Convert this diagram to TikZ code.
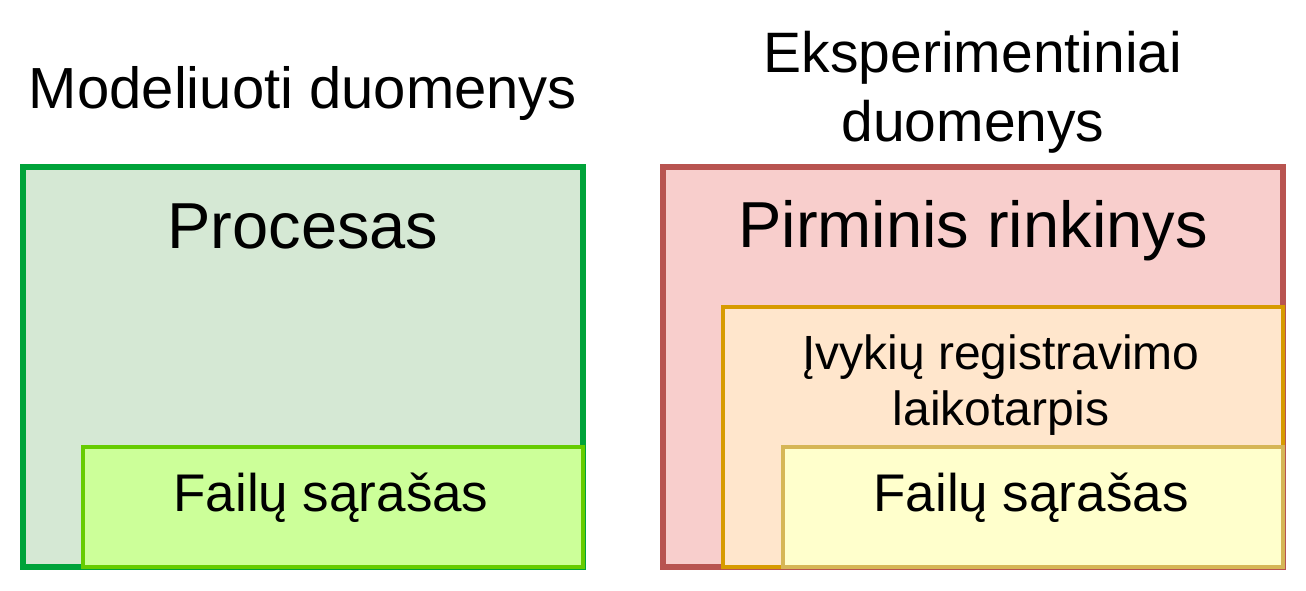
\documentclass[tikz,border=0pt]{standalone}
\usepackage{xcolor}
\usepackage{fontspec}
\setmainfont{Liberation Sans}
\usepackage{tikz}
\usetikzlibrary{positioning}

\definecolor{procFill}{HTML}{D5E8D4}
\definecolor{procLine}{HTML}{00A33A}
\definecolor{failFill}{HTML}{CCFF99}
\definecolor{failLine}{HTML}{66CC00}
\definecolor{pirmFill}{HTML}{F8CECC}
\definecolor{pirmLine}{HTML}{B85450}
\definecolor{laikFill}{HTML}{FFE6CC}
\definecolor{laikLine}{HTML}{D79B00}
\definecolor{sarFill}{HTML}{FFFFCC}
\definecolor{sarLine}{HTML}{D6B656}

\tikzset{
  box/.style={rectangle, draw, anchor=north west, inner sep=0pt, outer sep=0pt},
  bigbox/.style={box, line width=6pt},
  smallbox/.style={box, line width=4pt},
  txt/.style={anchor=base, inner sep=0pt, align=center}
}

\begin{document}
\begin{tikzpicture}[x=1pt, y=-1pt]
        \useasboundingbox (0,0) rectangle (1306,590);

        % modeliuoti duomenys
        \node[bigbox, fill=procFill, draw=procLine, minimum width=560pt, minimum height=400pt] (procesas) at (23,167) {};
        \node[smallbox, fill=failFill, draw=failLine, minimum width=500pt, minimum height=120pt] (failaiM) at (83,447) {};

        % eksperimentiniai duomenys
        \node[bigbox, fill=pirmFill, draw=pirmLine, minimum width=620pt, minimum height=400pt] (pirminis) at (663,167) {};
        \node[smallbox, fill=laikFill, draw=laikLine, minimum width=560pt, minimum height=260pt] (laikotarpis) at (723,307) {};
        \node[smallbox, fill=sarFill, draw=sarLine, minimum width=500pt, minimum height=120pt] (failaiE) at (783,447) {};

        % tekstai
        \node[txt, font=\fontsize{58}{68}\selectfont] (modT) at (303,108) {Modeliuoti duomenys};
        \node[txt, font=\fontsize{57}{69}\selectfont, anchor=north] (eksT) at (973,31) {Eksperimentiniai\\duomenys};
        \node[txt, font=\fontsize{65}{75}\selectfont] (procT) at (303,248) {Procesas};
        \node[txt, font=\fontsize{65}{75}\selectfont] (pirmT) at (973,247) {Pirminis rinkinys};
        \node[txt, font=\fontsize{48}{56}\selectfont, anchor=north] (laikT) at (1001,335) {Įvykių registravimo\\laikotarpis};
        \node[txt, font=\fontsize{53}{60}\selectfont] (failMT) at (331,511) {Failų sąrašas};
        \node[txt, font=\fontsize{53}{60}\selectfont] (failET) at (1031,511) {Failų sąrašas};
    \end{tikzpicture}
\end{document}
